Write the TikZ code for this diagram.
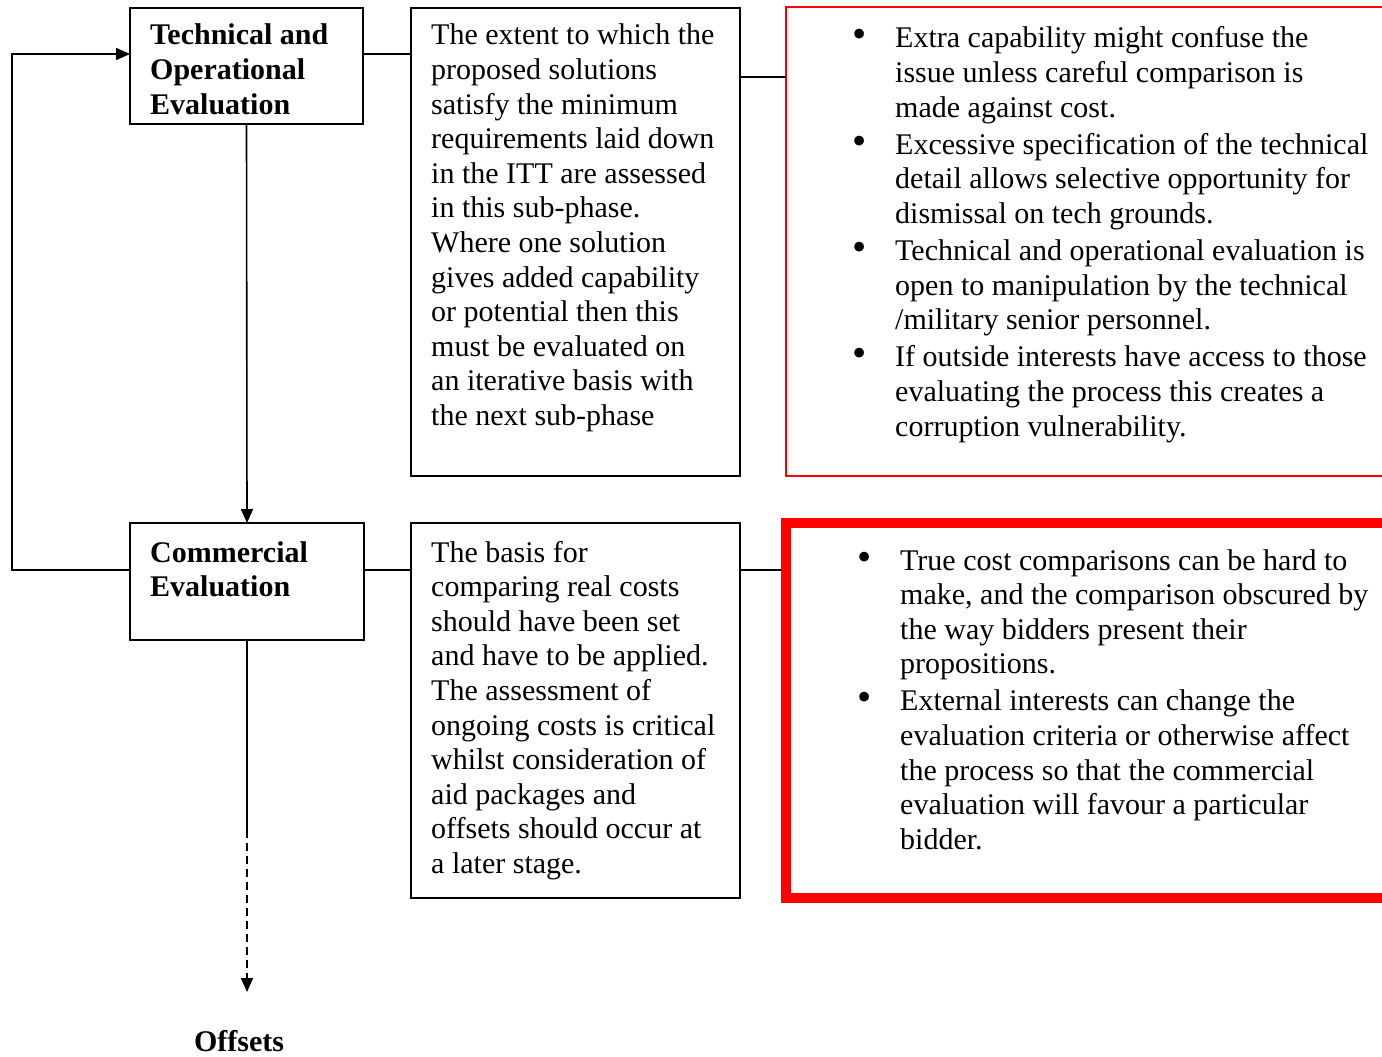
\documentclass[tikz,border=0pt]{standalone}
\usepackage{fontspec}
\usepackage{graphicx}
\setmainfont{Liberation Serif}
\usetikzlibrary{arrows.meta}
\newcommand\bodyfont{\fontsize{30}{34.6}\selectfont}
% a block of lines whose reference point is the first baseline
\newcommand\textlines[1]{\begin{tabular}[t]{@{}l@{}}#1\end{tabular}}
\newcommand\bulletlines[1]{\begin{tabular}[t]{@{}l@{}l@{}}#1\end{tabular}}
\newcommand\bul{\makebox[43pt][l]{\scalebox{1.35}{\textbullet}}}
\begin{document}
\begin{tikzpicture}[x=1pt,y=-1pt,
  blackbox/.style={draw=black, line width=1.6pt, rectangle, inner sep=0pt, outer sep=0pt, anchor=north west},
  redthin/.style={draw=red, line width=2pt, rectangle, inner sep=0pt, outer sep=0pt, anchor=north west},
  redthick/.style={draw=red, line width=10.5pt, rectangle, inner sep=0pt, outer sep=0pt, anchor=north west},
  lbl/.style={anchor=base west, inner sep=0pt, font=\bodyfont},
  conn/.style={draw=black, line width=1.6pt},
  connarrow/.style={conn, -{Triangle[length=14pt,width=12pt]}},
  dashedarrow/.style={connarrow, dash pattern=on 8pt off 5pt}]
\clip (0,0) rectangle (1382,1057);
\fill[white] (0,0) rectangle (1382,1057);

% boxes
\node[blackbox, minimum width=233pt, minimum height=116pt] (to) at (130,8) {};
\node[blackbox, minimum width=234pt, minimum height=117pt] (ce) at (130,523) {};
\node[blackbox, minimum width=329pt, minimum height=468pt] (d1) at (411,8) {};
\node[blackbox, minimum width=329pt, minimum height=375pt] (d2) at (411,523) {};
\node[redthin, minimum width=620pt, minimum height=469pt] (r1) at (786,7) {};
\node[redthick, minimum width=620pt, minimum height=375pt] (r2) at (786,523) {};

% texts
\node[lbl] (tto) at (150,45) {\bfseries\textlines{Technical and\\Operational\\Evaluation}};
\node[lbl] (tce) at (150,562) {\bfseries\textlines{Commercial\\Evaluation}};
\node[lbl] (td1) at (431,45) {\textlines{The extent to which the\\proposed solutions\\satisfy the minimum\\requirements laid down\\in the ITT are assessed\\in this sub-phase.\\Where one solution\\gives added capability\\or potential then this\\must be evaluated on\\an iterative basis with\\the next sub-phase}};
\node[lbl] (td2) at (431,562) {\textlines{The basis for\\comparing real costs\\should have been set\\and have to be applied.\\The assessment of\\ongoing costs is critical\\whilst consideration of\\aid packages and\\offsets should occur at\\a later stage.}};
\node[lbl] (tr1) at (852,48) {\bulletlines{%
  \bul & Extra capability might confuse the\\
       & issue unless careful comparison is\\
       & made against cost.\\[2.5pt]
  \bul & Excessive specification of the technical\\
       & detail allows selective opportunity for\\
       & dismissal on tech grounds.\\[2.5pt]
  \bul & Technical and operational evaluation is\\
       & open to manipulation by the technical\\
       & /military senior personnel.\\[2.5pt]
  \bul & If outside interests have access to those\\
       & evaluating the process this creates a\\
       & corruption vulnerability.}};
\node[lbl] (tr2) at (857,570) {\bulletlines{%
  \bul & True cost comparisons can be hard to\\
       & make, and the comparison obscured by\\
       & the way bidders present their\\
       & propositions.\\[2.5pt]
  \bul & External interests can change the\\
       & evaluation criteria or otherwise affect\\
       & the process so that the commercial\\
       & evaluation will favour a particular\\
       & bidder.}};
\node[anchor=base, inner sep=0pt, font=\bodyfont\bfseries] (off) at (239,1051) {Offsets};

% connectors
\coordinate (rowa) at (0,54);
\coordinate (rowb) at (0,77);
\coordinate (rowc) at (0,570);
\draw[conn] (to.east |- rowa) -- (d1.west |- rowa);
\draw[conn] (d1.east |- rowb) -- (r1.west |- rowb);
\draw[conn] (ce.east |- rowc) -- (d2.west |- rowc);
% stops at the outer side of the thick frame
\draw[conn, shorten >=5.25pt] (d2.east |- rowc) -- (r2.west |- rowc);
\draw[connarrow] (to.south) -- (ce.north);

% loop back from the commercial stage to the technical stage
\coordinate (loopb) at (12,570);
\coordinate (loopt) at (12,54);
\draw[connarrow] (ce.west |- loopb) -- (loopb) -- (loopt) -- (to.west |- loopt);

% towards offsets
\coordinate (dashfrom) at (247,830);
\coordinate (offtip) at (247,992);
\draw[conn] (ce.south) -- (dashfrom);
\draw[dashedarrow] (dashfrom) -- (offtip);
\end{tikzpicture}
\end{document}
